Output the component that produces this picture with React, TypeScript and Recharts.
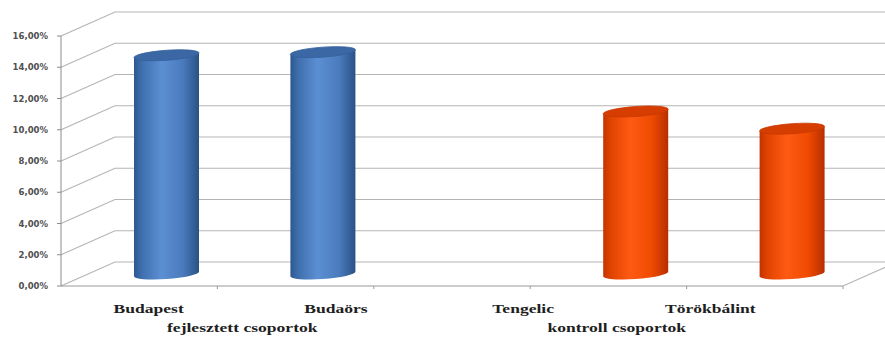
import React from 'react';
import { BarChart, Bar, XAxis, YAxis, CartesianGrid } from 'recharts';

// Share of pupils per site, grouped into developed and control groups
const categories = ['Budapest', 'Budaörs', 'Tengelic', 'Törökbálint'];
const groups = ['fejlesztett csoportok', 'kontroll csoportok'];
const groupOf = [0, 0, 1, 1];
const values = [0.14, 0.142, 0.104, 0.093];
const yTicks = [0, 0.02, 0.04, 0.06, 0.08, 0.1, 0.12, 0.14, 0.16];

// Bar slots: the two groups, separated by one empty slot
type Row = { slot: string; value: number | null; group: number };
const rows: Row[] = [];
groups.forEach((_, g) => {
  if (g > 0) rows.push({ slot: `gap-${g}`, value: null, group: g });
  categories.forEach((name, i) => {
    if (groupOf[i] === g) rows.push({ slot: name, value: values[i], group: g });
  });
});

const labelRows = categories.map((name, i) => ({ name, group: groups[groupOf[i]] }));

const W = 885;
const H = 339;

// Depth of the 3D box (back wall offset); bars sit at half depth
const DEPTH_X = 54;
const DEPTH_Y = -24;
const BAR_DX = DEPTH_X / 2;
const BAR_DY = DEPTH_Y / 2;
const GRID = '#b5b5b5';

const palettes = [
  {
    stops: ['#2d5890', '#3f6fae', '#5b8fd3', '#4a7bbd', '#2a5185'],
    top: '#3b68a5',
    rim: '#33609a',
  },
  {
    stops: ['#c23400', '#e04400', '#ff5a14', '#ee4a00', '#b72f00'],
    top: '#d53e00',
    rim: '#c73800',
  },
];

const pct = (v: number) => `${(v * 100).toFixed(2).replace('.', ',')}%`;

const Cylinder = (props: any) => {
  const { x, y, width, height, index, payload } = props;
  if (payload == null || payload.value == null || !(height > 0)) return null;
  const pal = palettes[payload.group] || palettes[0];
  const left = x + BAR_DX;
  const right = left + width;
  const cx = left + width / 2;
  const top = y + BAR_DY;
  const bottom = y + height + BAR_DY;
  const rx = width / 2;
  const ry = 5;
  const id = `cyl-grad-${index}`;
  const body = `M${left},${top} L${left},${bottom} A${rx},${ry} 0 0 0 ${right},${bottom} L${right},${top} Z`;
  return (
    <g transform={`translate(${cx},${bottom}) skewY(-4) translate(${-cx},${-bottom})`}>
      <defs>
        <linearGradient id={id} x1="0" y1="0" x2="1" y2="0">
          <stop offset="0" stopColor={pal.stops[0]} />
          <stop offset="0.12" stopColor={pal.stops[1]} />
          <stop offset="0.42" stopColor={pal.stops[2]} />
          <stop offset="0.75" stopColor={pal.stops[3]} />
          <stop offset="1" stopColor={pal.stops[4]} />
        </linearGradient>
      </defs>
      <path d={body} fill={`url(#${id})`} />
      <ellipse cx={cx} cy={top} rx={rx} ry={ry} fill={pal.top} stroke={pal.rim} strokeWidth={0.8} />
    </g>
  );
};

// Horizontal gridlines: left wall diagonal plus back wall line
const WallLine = (props: any) => {
  const { x1, y1, x2 } = props;
  if (x1 == null || y1 == null) return <g />;
  const pts = `${x1},${y1} ${x1 + DEPTH_X},${y1 + DEPTH_Y} ${x2 + DEPTH_X + 20},${y1 + DEPTH_Y}`;
  return <polyline points={pts} fill="none" stroke={GRID} strokeWidth={1.2} />;
};

// Front floor edge: tick marks at slot boundaries, right floor diagonal
const FloorTick = (props: any) => {
  const { x, y, payload, index, visibleTicksCount } = props;
  const off = payload && payload.offset != null ? payload.offset : 0;
  const bx = x + off;
  const last = index === (visibleTicksCount ?? rows.length) - 1;
  return (
    <g>
      <line x1={bx} y1={y} x2={bx} y2={y + 3} stroke="#9a9a9a" strokeWidth={1} />
      {last && (
        <line x1={bx} y1={y} x2={bx + DEPTH_X} y2={y + DEPTH_Y} stroke={GRID} strokeWidth={1.2} />
      )}
    </g>
  );
};

const SerifTick = (props: any) => {
  const { x, y, payload, baseline } = props;
  return (
    <g transform={`translate(${x},${y + baseline}) scale(1.35,1)`}>
      <text
        x={0}
        y={0}
        textAnchor="middle"
        fontFamily="'Liberation Serif', 'Times New Roman', serif"
        fontWeight="bold"
        fontSize={13}
        fill="#1e1e1e"
      >
        {payload.value}
      </text>
    </g>
  );
};

export default function App() {
  return (
    <div style={{ position: 'fixed', left: 0, top: 0, width: W, height: H, background: '#fff', overflow: 'hidden' }}>
      <div style={{ position: 'absolute', left: 0, top: 0 }}>
        <BarChart width={W} height={H} data={rows} margin={{ top: 36, right: 42, bottom: 33, left: 0 }}>
          <CartesianGrid vertical={false} horizontal={(p: any) => <WallLine key={p.key ?? `${p.y1}`} {...p} />} />
          <XAxis
            dataKey="slot"
            height={20}
            tickSize={0}
            tickMargin={0}
            tickLine={false}
            axisLine={{ stroke: '#9a9a9a', strokeWidth: 1 }}
            interval={0}
            tick={<FloorTick />}
          />
          <YAxis
            width={61}
            domain={[0, 0.16]}
            ticks={yTicks}
            interval={0}
            tickFormatter={pct}
            tickSize={4}
            tickMargin={9}
            axisLine={{ stroke: '#8c8c8c' }}
            tickLine={{ stroke: '#8c8c8c' }}
            tick={{ fontFamily: 'DejaVu Sans', fontSize: 8.5, fontWeight: 'bold', fill: '#4f4f4f' }}
          />
          <Bar dataKey="value" barSize={65} isAnimationActive={false} shape={(p: any) => <Cylinder {...p} />} />
        </BarChart>
      </div>
      <div style={{ position: 'absolute', left: 0, top: 0, pointerEvents: 'none' }}>
        <BarChart width={W} height={H} data={labelRows} margin={{ top: 0, right: 81, bottom: 0, left: 55 }}>
          <YAxis hide />
          <XAxis
            dataKey="name"
            height={22}
            tickSize={0}
            tickMargin={0}
            tickLine={false}
            axisLine={false}
            interval={0}
            tick={<SerifTick baseline={18} />}
          />
          <XAxis
            xAxisId="grp"
            dataKey="group"
            allowDuplicatedCategory={false}
            height={22}
            tickSize={0}
            tickMargin={0}
            tickLine={false}
            axisLine={false}
            interval={0}
            tick={<SerifTick baseline={15} />}
          />
        </BarChart>
      </div>
    </div>
  );
}
